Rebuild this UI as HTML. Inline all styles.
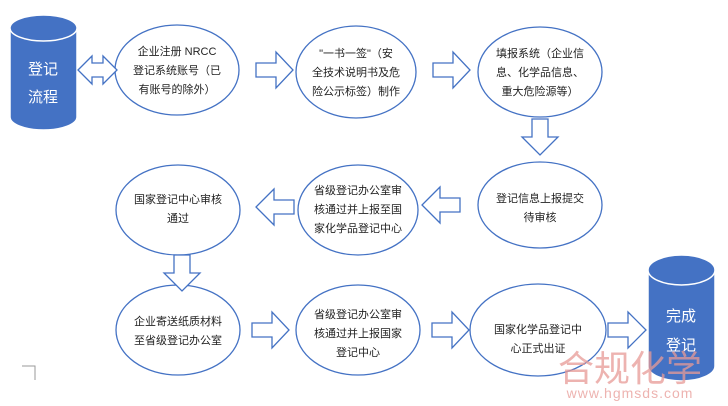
<!DOCTYPE html>
<html><head><meta charset="utf-8"><style>
body{margin:0;background:#fff;}
svg text{font-family:"Liberation Sans","Noto Sans CJK SC",sans-serif;}
</style></head><body>
<svg width="728" height="401" viewBox="0 0 728 401" xmlns="http://www.w3.org/2000/svg">
<g fill="#4472C4" stroke="#fff" stroke-width="1.5">
<path d="M10,28 A33.5,13 0 0 1 77,28 L77,117 A33.5,13 0 0 1 10,117 Z"/>
<path d="M10,28 A33.5,13 0 0 0 77,28"/>
<path d="M648,270 A33.5,15 0 0 1 715,270 L715,366 A33.5,15 0 0 1 648,366 Z"/>
<path d="M648,270 A33.5,15 0 0 0 715,270"/>
</g>
<g fill="#fff" font-size="15" text-anchor="middle">
<text x="43" y="74">登记</text><text x="43" y="102">流程</text>
<text x="681" y="321">完成</text><text x="681" y="350">登记</text>
</g>
<g fill="#fff" stroke="#4472C4" stroke-width="1.3">
<ellipse cx="177" cy="70" rx="62" ry="45"/>
<ellipse cx="356" cy="72" rx="60" ry="46"/>
<ellipse cx="540" cy="72" rx="62" ry="45"/>
<ellipse cx="540" cy="205" rx="62" ry="43"/>
<ellipse cx="358" cy="210" rx="60" ry="45"/>
<ellipse cx="178" cy="210" rx="62" ry="45"/>
<ellipse cx="178" cy="330" rx="62" ry="45"/>
<ellipse cx="358" cy="330" rx="62" ry="45"/>
<ellipse cx="538" cy="330" rx="68" ry="46"/>
<!-- double arrow -->
<path d="M78,70 L92,56 L92,63 L103,63 L103,56 L117,70 L103,84 L103,77 L92,77 L92,84 Z"/>
<!-- right arrows -->
<path d="M256,63 L276,63 L276,52 L293,70 L276,88 L276,77 L256,77 Z"/>
<path d="M433,63 L453,63 L453,52 L470,70 L453,88 L453,77 L433,77 Z"/>
<path d="M252,323 L272,323 L272,312 L289,330 L272,348 L272,337 L252,337 Z"/>
<path d="M432,323 L452,323 L452,312 L469,330 L452,348 L452,337 L432,337 Z"/>
<path d="M608,323 L628,323 L628,312 L646,330 L628,348 L628,337 L608,337 Z"/>
<!-- left arrows -->
<path d="M460,198 L440,198 L440,187 L422,205 L440,223 L440,212 L460,212 Z"/>
<path d="M294,200 L274,200 L274,189 L256,207 L274,225 L274,214 L294,214 Z"/>
<!-- down arrows -->
<path d="M532,119 L548,119 L548,137 L558,137 L540,155 L522,137 L532,137 Z"/>
<path d="M174,255 L190,255 L190,273 L200,273 L182,291 L164,273 L174,273 Z"/>
</g>
<g fill="#222" font-size="11" text-anchor="middle">
<text x="177" y="55">企业注册 NRCC</text><text x="177" y="74">登记系统账号（已</text><text x="177" y="93">有账号的除外）</text>
<text x="356" y="57">"一书一签"（安</text><text x="356" y="76">全技术说明书及危</text><text x="356" y="95">险公示标签）制作</text>
<text x="540" y="57">填报系统（企业信</text><text x="540" y="76">息、化学品信息、</text><text x="540" y="95">重大危险源等）</text>
<text x="540" y="202">登记信息上报提交</text><text x="540" y="221">待审核</text>
<text x="358" y="194">省级登记办公室审</text><text x="358" y="213">核通过并上报至国</text><text x="358" y="232">家化学品登记中心</text>
<text x="178" y="203">国家登记中心审核</text><text x="178" y="222">通过</text>
<text x="178" y="325">企业寄送纸质材料</text><text x="178" y="344">至省级登记办公室</text>
<text x="358" y="318">省级登记办公室审</text><text x="358" y="337">核通过并上报国家</text><text x="358" y="356">登记中心</text>
<text x="538" y="333">国家化学品登记中</text><text x="538" y="352">心正式出证</text>
</g>
<path d="M22,366 L35,366 L35,380" fill="none" stroke="#999" stroke-width="1"/>
<g fill="#E89A96" opacity="0.75" text-anchor="middle">
<text x="630" y="381" font-size="36">合规化学</text>
<text x="630" y="398" font-size="14" letter-spacing="1">www.hgmsds.com</text>
</g>
</svg>
</body></html>
